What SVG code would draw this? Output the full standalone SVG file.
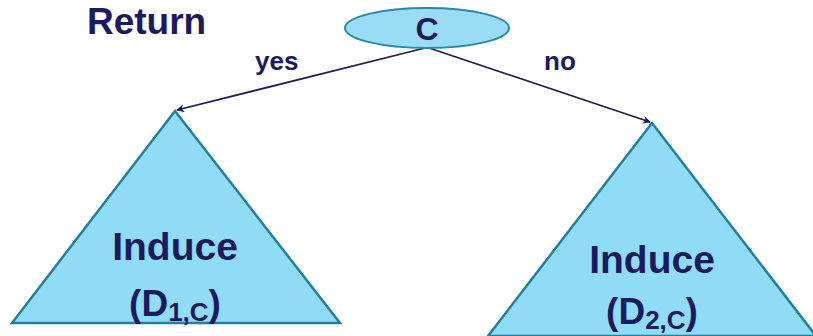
<svg xmlns="http://www.w3.org/2000/svg" width="813" height="336" viewBox="0 0 813 336">
<defs>
<style>
.t{font-family:"Liberation Sans",Arial,sans-serif;font-weight:bold;fill:#1b1b5e}
.tri{fill:#90dcf6;stroke:#237f9c;stroke-width:2.5;stroke-linejoin:miter}
.conn{stroke:#1f1f55;stroke-width:1.7;fill:none;marker-end:url(#arr)}
</style>
<marker id="arr" viewBox="0 0 10 10" refX="9" refY="5" markerWidth="8" markerHeight="8" orient="auto" markerUnits="userSpaceOnUse">
<path d="M0,0 L10,5 L0,10 L3,5 Z" fill="#1a1a66"/>
</marker>
</defs>
<rect width="813" height="336" fill="#ffffff"/>
<g id="title">
<text class="t" x="87" y="34" font-size="37">Return</text>
</g>
<g id="connectors">
<line class="conn" x1="425" y1="48" x2="177" y2="110"/>
<line class="conn" x1="429" y1="48" x2="650" y2="122"/>
<text class="t" x="255" y="70" font-size="26">yes</text>
<text class="t" x="544" y="70" font-size="26">no</text>
</g>
<g id="nodeC">
<ellipse cx="427" cy="28" rx="82" ry="20" fill="#9adcf3" stroke="#2a8aa5" stroke-width="2"/>
<text class="t" x="427" y="40" font-size="32" text-anchor="middle">C</text>
</g>
<g id="left">
<polygon class="tri" points="175,111 12,323 340,323"/>
<text class="t" x="175" y="260" font-size="39" text-anchor="middle">Induce</text>
<text class="t" x="175" y="316" font-size="37" text-anchor="middle">(D<tspan font-size="26" dy="5">1,C</tspan><tspan dy="-5">)</tspan></text>
</g>
<g id="right">
<polygon class="tri" points="652,123 488,336 816,336"/>
<text class="t" x="652" y="273" font-size="39" text-anchor="middle">Induce</text>
<text class="t" x="652" y="324" font-size="37" text-anchor="middle">(D<tspan font-size="26" dy="5">2,C</tspan><tspan dy="-5">)</tspan></text>
</g>
</svg>
